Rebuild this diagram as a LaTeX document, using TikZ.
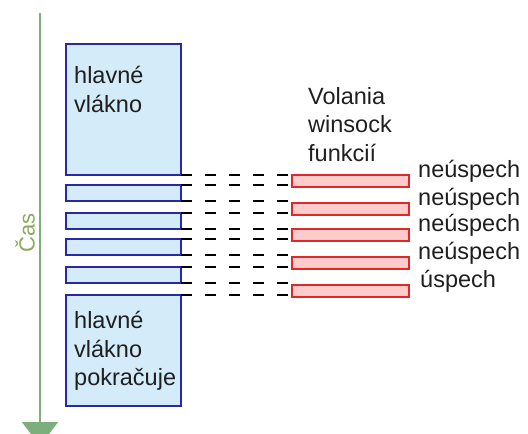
\documentclass[tikz,border=0pt]{standalone}
\usepackage{fontspec}
\setmainfont{Liberation Sans}
\usetikzlibrary{arrows.meta}

\definecolor{threadblue}{HTML}{2828A8}
\definecolor{threadfill}{HTML}{D4ECF9}
\definecolor{callred}{HTML}{E02828}
\definecolor{callfill}{HTML}{FFCCCC}
\definecolor{axisgreen}{HTML}{7DAF7D}
\definecolor{axistext}{HTML}{8AAA5E}

\tikzset{
  thread/.style={draw=threadblue, fill=threadfill, line width=1.5pt,
    inner sep=0pt, outer sep=0pt, anchor=north west, minimum width=115pt},
  wcall/.style={draw=callred, fill=callfill, line width=1.5pt,
    inner sep=0pt, outer sep=0pt, anchor=north west,
    minimum width=117pt, minimum height=12pt},
  txt/.style={inner sep=0pt, align=left, anchor=north west,
    font=\fontsize{23.5}{28.5}\selectfont, text=black!88},
  result/.style={inner sep=0pt, anchor=base west,
    font=\fontsize{23.5}{28.5}\selectfont, text=black!88},
  callline/.style={line width=1.5pt, dash pattern=on 11pt off 13pt},
}

\begin{document}
\begin{tikzpicture}[x=1pt,y=-1pt]
  \useasboundingbox (0,0) rectangle (528,434);

  \coordinate (tstart) at (40,13);
  \coordinate (tend) at (40,446);
  \draw[axisgreen, line width=1.5pt, -{Triangle[width=36pt,length=24pt]}]
    (tstart) -- (tend);
  \node[rotate=90, inner sep=0pt, text=axistext,
    font=\fontsize{22}{26}\selectfont] (cas) at (25,233) {Čas};

  \node[thread, minimum height=131pt] (t0) at (66,44) {};
  \node[thread, minimum height=16pt] (t1) at (66,185) {};
  \node[thread, minimum height=16pt] (t2) at (66,213) {};
  \node[thread, minimum height=16pt] (t3) at (66,239) {};
  \node[thread, minimum height=16pt] (t4) at (66,267) {};
  \node[thread, minimum height=111pt] (t5) at (66,295) {};

  \node[txt] (main) at (74,66) {hlavné\\vlákno};
  \node[txt] (cont) at (74,311) {hlavné\\vlákno\\pokračuje};
  \node[txt] (calls) at (308,87) {Volania\\winsock\\funkcií};

  \node[wcall] (w1) at (292,175) {};
  \node[wcall] (w2) at (292,203) {};
  \node[wcall] (w3) at (292,229) {};
  \node[wcall] (w4) at (292,257) {};
  \node[wcall] (w5) at (292,285) {};

  \node[result] (r1) at ([xshift=9pt,yshift=4pt]w1.east) {neúspech};
  \node[result] (r2) at ([xshift=9pt,yshift=4pt]w2.east) {neúspech};
  \node[result] (r3) at ([xshift=9pt,yshift=4pt]w3.east) {neúspech};
  \node[result] (r4) at ([xshift=9pt,yshift=4pt]w4.east) {neúspech};
  \node[result] (r5) at ([xshift=11pt,yshift=4pt]w5.east) {úspech};

  \begin{scope}[callline]
    \draw (t0.south east) -- (t0.south east -| w1.west);
    \draw (t1.north east) -- (t1.north east -| w1.west);
    \draw (t1.south east) -- (t1.south east -| w2.west);
    \draw (t2.north east) -- (t2.north east -| w2.west);
    \draw (t2.south east) -- (t2.south east -| w3.west);
    \draw (t3.north east) -- (t3.north east -| w3.west);
    \draw (t3.south east) -- (t3.south east -| w4.west);
    \draw (t4.north east) -- (t4.north east -| w4.west);
    \draw (t4.south east) -- (t4.south east -| w5.west);
    \draw (t5.north east) -- (t5.north east -| w5.west);
  \end{scope}
\end{tikzpicture}
\end{document}
